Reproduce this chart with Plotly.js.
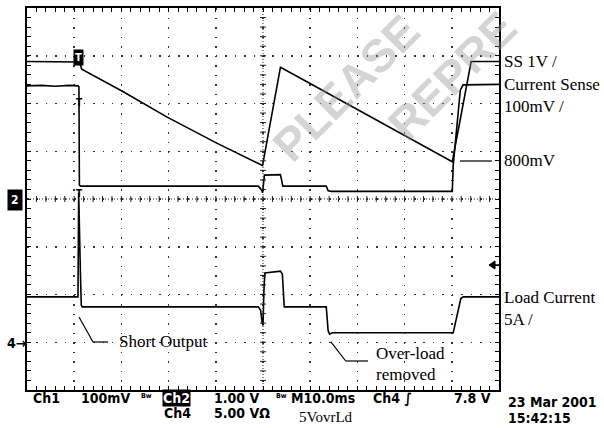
<!DOCTYPE html>
<html>
<head>
<meta charset="utf-8">
<script src="https://cdn.plot.ly/plotly-3.0.1.min.js"></script>
<style>html,body{margin:0;padding:0;background:#fff;}#chart{width:604px;height:428px;}</style>
</head>
<body>
<div id="chart"></div>
<script>
// Time axis in ms (10 ms/div), vertical values in screen divisions (centre = 0)
const ssTime = [0, 10.8, 11.1, 11.6, 20.3, 29.6, 40.2, 49.9, 53.7, 62.0, 72.0, 82.0, 90.1, 94.1, 100];
const ssDiv  = [2.88, 2.88, 2.87, 2.72, 2.25, 1.72, 1.17, 0.70, 2.76, 2.31, 1.77, 1.22, 0.78, 2.88, 2.88];

const csTime = [0, 3, 6, 9, 10.8, 11.0, 11.1, 11.4, 49.0, 49.7, 49.9, 50.1, 50.3, 53.7, 54.2, 63.4, 63.8, 64.5, 90.1, 90.3, 91.8, 92.4, 100];
const csDiv  = [2.37, 2.38, 2.36, 2.38, 2.37, 2.35, 0.29, 0.27, 0.27, 0.19, 0.13, 0.29, 0.50, 0.51, 0.27, 0.27, 0.17, 0.16, 0.16, 0.71, 2.28, 2.39, 2.40];

const ldTime = [0, 10.8, 10.95, 11.1, 11.3, 11.5, 11.7, 49.0, 49.5, 49.8, 50.0, 50.2, 50.4, 53.7, 54.1, 54.5, 63.4, 63.8, 64.1, 64.7, 90.3, 91.9, 92.4, 100];
const ldDiv  = [-2.05, -2.05, 0.13, -0.96, -1.49, -2.22, -2.26, -2.26, -2.33, -2.58, -2.65, -1.91, -1.55, -1.51, -1.57, -2.26, -2.26, -2.76, -2.83, -2.80, -2.80, -2.09, -2.05, -2.05];

// layout helpers (pixel -> paper)
const PL = 27, PR = 499, PT = 8, PB = 390;
const px = x => (x - PL) / (PR - PL);
const py = y => (PB - y) / (PB - PT);

const lineStyle = {color: '#000', width: 1.6};
const traces = [
  {x: ssTime, y: ssDiv, mode: 'lines', line: lineStyle, hoverinfo: 'skip'},
  {x: csTime, y: csDiv, mode: 'lines', line: lineStyle, hoverinfo: 'skip'},
  {x: ldTime, y: ldDiv, mode: 'lines', line: lineStyle, hoverinfo: 'skip'}
];

const shapes = [];
// centre cross (dense dotted with small ticks)
shapes.push({type:'line', xref:'x', yref:'y', x0:50, x1:50, y0:-4, y1:4, line:{color:'#222', width:1, dash:'1px,2px'}});
shapes.push({type:'line', xref:'x', yref:'y', x0:0, x1:100, y0:0, y1:0, line:{color:'#222', width:1, dash:'1px,2px'}});
for (let t = 2; t < 100; t += 2) {
  shapes.push({type:'line', xref:'x', yref:'y', ysizemode:'pixel', yanchor:0, x0:t, x1:t, y0:-3, y1:3, line:{color:'#222', width:1}});
}
for (let v = -3.8; v < 3.9; v += 0.2) {
  shapes.push({type:'line', xref:'x', yref:'y', xsizemode:'pixel', xanchor:50, y0:v, y1:v, x0:-3, x1:3, line:{color:'#222', width:1}});
}
// leader lines
function seg(x0,y0,x1,y1,w){shapes.push({type:'line', xref:'paper', yref:'paper', x0:px(x0), y0:py(y0), x1:px(x1), y1:py(y1), line:{color:'#000', width:w||1.2}});}
seg(79,317,93,342); seg(93,342,108,342);
seg(330.7,341.7,345.7,361); seg(345.7,361,368,361);
seg(460,161,492,161);
// trigger-level arrow on the right (filled head + stem)
shapes.push({type:'path', xref:'paper', yref:'paper',
  path:'M'+px(489)+','+py(265)+' L'+px(495)+','+py(261)+' L'+px(495)+','+py(269)+' Z',
  fillcolor:'#000', line:{color:'#000', width:1}});
seg(494,265,499,265,1.5);

const serif = {family:'Liberation Serif, Times New Roman, serif', size:17, color:'#000'};
const scope = {family:'DejaVu Sans Condensed, DejaVu Sans, sans-serif', size:14, color:'#000', weight:'bold'};
const wm = {family:'Liberation Sans, Arial, sans-serif', size:46, color:'rgba(150,150,150,0.42)', weight:'bold'};

function ann(text, x, y, font, extra){
  return Object.assign({text:text, xref:'paper', yref:'paper', x:px(x), y:py(y), xanchor:'left', yanchor:'middle', showarrow:false, font:font}, extra||{});
}
const annotations = [
  ann('PLEASE', 346, 88, wm, {xanchor:'center', textangle:-45}),
  ann('REPRE', 452, 76, wm, {xanchor:'center', textangle:-45}),
  ann('SS 1V /', 502, 62, serif),
  ann('Current Sense', 502, 85, serif),
  ann('100mV /', 502, 107, serif),
  ann('800mV', 502, 161, serif),
  ann('Load Current', 502, 297, serif),
  ann('5A /', 502, 319, serif),
  ann('Short Output', 117, 341, serif),
  ann('Over-load', 374, 353, serif),
  ann('removed', 374, 374, serif),
  ann('5VovrLd', 297, 417, Object.assign({}, serif, {size:15})),
  ann('Ch1', 31, 398, scope),
  ann('100mV', 79, 398, scope),
  ann('Bw', 139, 396, Object.assign({}, scope, {size:7})),
  ann('Ch2', 162, 398, Object.assign({}, scope, {color:'#fff'}), {bgcolor:'#000', borderpad:0}),
  ann('Ch4', 162, 413, scope),
  ann('1.00 V', 212, 398, scope),
  ann('5.00 VΩ', 212, 413, scope),
  ann('Bw', 274, 396, Object.assign({}, scope, {size:7})),
  ann('M10.0ms', 289, 398, scope),
  ann('Ch4 ∫', 371, 398, scope),
  ann('7.8 V', 452, 398, scope),
  ann('23 Mar 2001', 506, 402, scope),
  ann('15:42:15', 506, 418, scope),
  ann('2', 7, 200, Object.assign({}, scope, {size:12, color:'#fff'}), {bgcolor:'#000', borderpad:3}),
  ann('4→', 5, 343, Object.assign({}, scope, {size:14})),
  ann('T', 73, 57, Object.assign({}, scope, {size:11, color:'#fff'}), {bgcolor:'#000', borderpad:1}),
  ann('T', 79, 102, Object.assign({}, scope, {size:10}), {xanchor:'center'}),
  ann('T', 79, 193, Object.assign({}, scope, {size:10}), {xanchor:'center'})
];

const axisCommon = {
  showline:true, linecolor:'#000', linewidth:2, mirror:'allticks',
  ticks:'inside', ticklen:4, tickcolor:'#000', tickwidth:1,
  showticklabels:false, zeroline:false,
  showgrid:true, gridcolor:'#333', gridwidth:1.5, fixedrange:true
};
const layout = {
  width:604, height:428,
  margin:{l:27, r:105, t:8, b:38, pad:0},
  paper_bgcolor:'#fff', plot_bgcolor:'#fff',
  showlegend:false,
  xaxis: Object.assign({}, axisCommon, {range:[0,100], dtick:10, tick0:0, griddash:'1.5px,8.05px',
    minor:{dtick:2, tick0:0, ticks:'inside', ticklen:4, tickcolor:'#000', showgrid:false}}),
  yaxis: Object.assign({}, axisCommon, {range:[-4,4], dtick:1, tick0:0, griddash:'1.5px,7.94px',
    minor:{dtick:0.2, tick0:0, ticks:'inside', ticklen:4, tickcolor:'#000', showgrid:false}}),
  shapes: shapes,
  annotations: annotations
};
Plotly.newPlot('chart', traces, layout, {staticPlot:true, displayModeBar:false});
</script>
</body>
</html>
